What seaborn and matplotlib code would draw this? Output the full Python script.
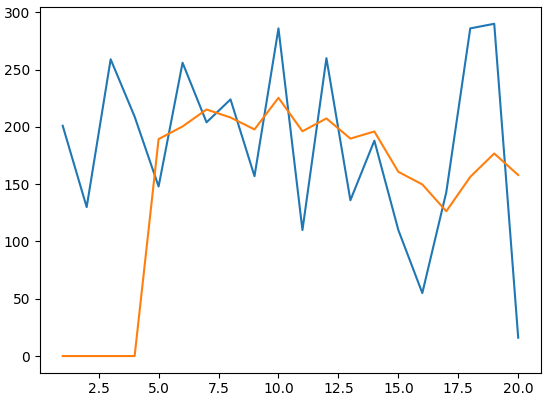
import matplotlib
matplotlib.use("Agg")
import matplotlib.pyplot as plt
import seaborn as sns
import pandas as pd

x = list(range(1, 21))
values = [201, 130, 259, 209, 148, 256, 204, 224, 157, 286,
          110, 260, 136, 188, 110, 55, 143, 286, 290, 16]
smoothed = [0, 0, 0, 0, 189.4, 200.4, 215.2, 208.2, 197.8, 225.4,
            196.2, 207.4, 189.8, 196.0, 160.8, 149.8, 126.4, 156.4, 176.8, 158.0]

df = pd.DataFrame({"x": x, "values": values, "smoothed": smoothed})

fig, ax = plt.subplots(figsize=(5.47, 3.99), dpi=100)
sns.lineplot(data=df, x="x", y="values", ax=ax, color="#1f77b4")
sns.lineplot(data=df, x="x", y="smoothed", ax=ax, color="#ff7f0e")
ax.set_xlabel("")
ax.set_ylabel("")
fig.subplots_adjust(left=0.073, right=0.989, bottom=0.066, top=0.982)
fig.savefig("out.png", dpi=100)
